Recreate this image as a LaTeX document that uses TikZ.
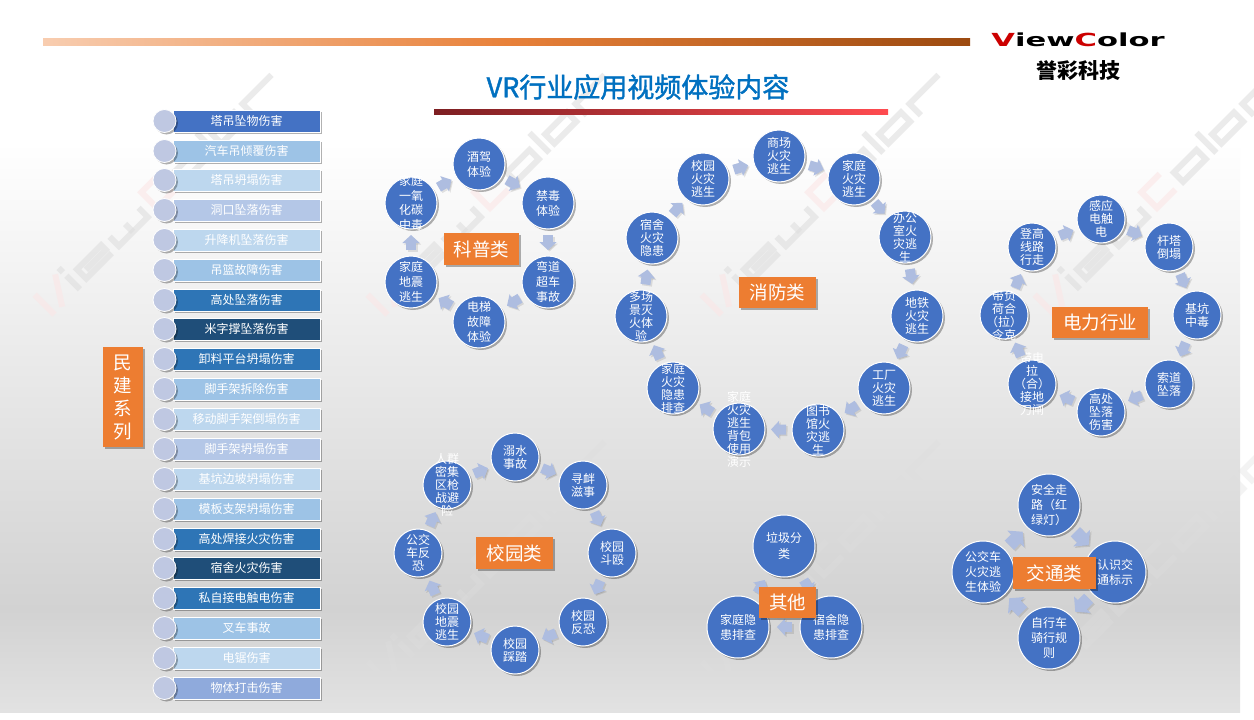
\documentclass[tikz,border=0pt]{standalone}
\usepackage{fontspec}
\setmainfont{Noto Sans CJK SC}
\newfontfamily\logofont{DejaVu Sans}
\newfontfamily\titlefont[FakeBold=1.5]{Noto Sans CJK SC}
\usetikzlibrary{shadows,calc,arrows.meta}
\definecolor{cblue}{HTML}{4472C4}
\definecolor{corange}{HTML}{ED7D31}
\definecolor{cdot}{HTML}{BFC8E2}
\definecolor{carrow}{HTML}{AEBDE0}
\definecolor{ctitle}{HTML}{0070C0}
\definecolor{wmgrey}{HTML}{DEDEDE}
\definecolor{wmpink}{HTML}{FBE6E6}
\definecolor{bgA}{HTML}{E2E2E2}
\definecolor{bgB}{HTML}{D2D2D2}
\definecolor{barL}{HTML}{F8CDB0}
\definecolor{barM}{HTML}{E8813A}
\definecolor{barR}{HTML}{9C4A10}
\definecolor{ulL}{HTML}{7D1F22}
\definecolor{ulR}{HTML}{FF4B50}
\pgfdeclareverticalshading{pagebg}{100bp}{color(0bp)=(bgA);color(25bp)=(bgA);color(32.2bp)=(bgB);color(65bp)=(white);color(100bp)=(white)}
\newcommand\ct[2][13]{\smash{\raisebox{-3pt}{\makebox[0pt]{\parbox[c]{80pt}{\centering\fontsize{12}{#1}\selectfont #2}}}}}
\newcommand\ba[3][blk]{%
  \path let \p1=($(#2.center)-(#3.center)$),\n1={veclen(\x1,\y1)/2-7.5pt} in \pgfextra{\xdef\myshort{\n1}};
  \draw[#1,shadowcopy,shorten <=\myshort,shorten >=\myshort] (#2.center)--(#3.center);
  \draw[#1,shorten <=\myshort,shorten >=\myshort] (#2.center)--(#3.center);}
\newcommand\bl[2]{%
  \path let \p1=($(#1.center)-(#2.center)$),\n1={veclen(\x1,\y1)/2-9.5pt} in \pgfextra{\xdef\myshort{\n1}};
  \draw[blkL,shadowcopy,shorten <=\myshort,shorten >=\myshort] (#1.center)--(#2.center);
  \draw[blkL,shorten <=\myshort,shorten >=\myshort] (#1.center)--(#2.center);}
\newcommand\wm[2]{%
  \begin{scope}[shift={(#1,#2)},rotate=45,y=1pt,line width=6pt,line join=miter,wmk]
    \draw[wmpink] (2,0)--(2,28);
    \draw[wmpink] (13,0)--(31,28);
    \draw (38,0)--(38,19);
    \draw (38,24)--(38,30);
    \draw (86,3)--(50,3)--(50,16)--(84,16)--(84,9.5)--(56,9.5);
    \draw (96,16)--(96,3)--(137,3)--(137,16);
    \draw (116,3)--(116,14);
    \draw[wmpink] (176,3)--(150,3)--(150,25)--(176,25);
    \draw (187,3)--(219,3)--(219,16)--(187,16)--cycle;
    \draw (231,0)--(231,28);
    \draw (241,3)--(272,3)--(272,16)--(241,16)--cycle;
    \draw (284,0)--(284,16)--(325,16);
  \end{scope}}
\tikzset{
  softshadow/.style={drop shadow={shadow xshift=2pt,shadow yshift=-2pt,opacity=.3,fill=black}},
  rnd/.style={circle,fill=cblue,draw=white,line width=1pt,inner sep=0pt,minimum size=#1,text=white,softshadow,font=\fontsize{12}{13}\selectfont},
  lab/.style={fill=corange,text=white,inner sep=0pt,font=\fontsize{18.5}{23}\selectfont,softshadow,align=center},
  barbox/.style={fill=#1,draw=white,line width=.8pt,minimum width=147pt,minimum height=22pt,inner sep=0pt,text=white,softshadow,font=\fontsize{12}{14}\selectfont},
  barend/.style={circle,fill=cdot,draw=white,line width=.8pt,minimum size=23pt,inner sep=0pt,softshadow},
  blk/.style={draw=carrow,line width=10pt,-{Triangle[length=8pt,width=17pt]}},
  blkL/.style={draw=carrow,line width=13pt,-{Triangle[length=10pt,width=23pt]}},
  shadowcopy/.style={draw=black,opacity=.1,transform canvas={shift={(1.5pt,-1.5pt)}}},
  wmk/.style={draw=wmgrey,opacity=.6}
}
\begin{document}
\begin{tikzpicture}[x=1pt,y=-1pt]
\useasboundingbox (0,0) rectangle (1254,720);
\fill[white] (0,0) rectangle (1254,720);
\shade[shading=pagebg] (0,0) rectangle (1240,712);
% watermark
\foreach \a in {53,386,720,1053}{\wm{\a}{316}}
\begin{scope}
\clip (0,0) rectangle (1254,720);
\colorlet{wmpink}{wmgrey}
\tikzset{wmk/.style={draw=wmgrey,opacity=.35}}
\foreach \a in {386,720,1053}{\wm{\a}{683}}
\end{scope}
% header
\shade[left color=barL,right color=barR,middle color=barM] (43,38) rectangle (970,45);
\shade[left color=ulL,right color=ulR] (434,109) rectangle (888,114);
\node[text=ctitle,font=\titlefont\fontsize{27}{30}\selectfont,inner sep=0pt] (title) at (638,87) {VR行业应用视频体验内容};
\node[inner sep=0pt,xscale=1.7,font=\logofont\bfseries\fontsize{18}{20}\selectfont,text=black] (logo) at (1078,40) {\textcolor{red!80!black}{V}iew\textcolor{red!80!black}{C}olor};
\node[inner sep=0pt,font=\fontsize{21}{24}\selectfont\bfseries] (brand) at (1078,71) {誉彩科技};
% left list
\node[lab,minimum width=40pt,minimum height=100pt] (minjian) at (123,397) {民\\建\\系\\列};
\foreach \i/\yy/\barcol/\lbl in {
 1/121/4472C4/塔吊坠物伤害,
 2/151/9DC3E6/汽车吊倾覆伤害,
 3/180/BDD7EE/塔吊坍塌伤害,
 4/210/B4C7E7/洞口坠落伤害,
 5/240/BDD7EE/升降机坠落伤害,
 6/270/9DC3E6/吊篮故障伤害,
 7/300/2E75B6/高处坠落伤害,
 8/329/1F4E79/米字撑坠落伤害,
 9/359/2E75B6/卸料平台坍塌伤害,
 10/389/9DC3E6/脚手架拆除伤害,
 11/419/BDD7EE/移动脚手架倒塌伤害,
 12/449/B4C7E7/脚手架坍塌伤害,
 13/479/BDD7EE/基坑边坡坍塌伤害,
 14/509/9DC3E6/模板支架坍塌伤害,
 15/539/2E75B6/高处焊接火灾伤害,
 16/568/1F4E79/宿舍火灾伤害,
 17/598/2E75B6/私自接电触电伤害,
 18/628/9DC3E6/叉车事故,
 19/658/BDD7EE/电锯伤害,
 20/688/8FAADC/物体打击伤害}{
  \definecolor{tmpc}{HTML}{\barcol}
  \node[barbox=tmpc] (b\i) at (246.5,\yy) {\lbl};
  \node[barend] (d\i) at (164.5,\yy) {};
}
% 科普类
\node[rnd=52pt] (k1) at (479,164) {\ct[15]{酒驾\\体验}};
\node[rnd=52pt] (k2) at (548,203) {\ct[15]{禁毒\\体验}};
\node[rnd=52pt] (k3) at (548,282) {\ct[15]{弯道\\超车\\事故}};
\node[rnd=52pt] (k4) at (479,322) {\ct[15]{电梯\\故障\\体验}};
\node[rnd=52pt] (k5) at (411,282) {\ct[15]{家庭\\地震\\逃生}};
\node[rnd=52pt] (k6) at (411,203) {\ct[14.7]{家庭\\一氧\\化碳\\中毒}};
\ba{k1}{k2}\ba{k2}{k3}\ba{k3}{k4}\ba{k4}{k5}\ba{k5}{k6}\ba{k6}{k1}
\node[lab,minimum width=75pt,minimum height=32pt] (kepu) at (481.5,249) {科普类};
% 消防类
\node[rnd=52pt] (f1) at (779,156) {\ct{商场\\火灾\\逃生}};
\node[rnd=52pt] (f2) at (854,179) {\ct{家庭\\火灾\\逃生}};
\node[rnd=52pt] (f3) at (905,237) {\ct{办公\\室火\\灾逃\\生}};
\node[rnd=52pt] (f4) at (917,316) {\ct{地铁\\火灾\\逃生}};
\node[rnd=52pt] (f5) at (884,388) {\ct{工厂\\火灾\\逃生}};
\node[rnd=52pt] (f6) at (818,430) {\ct{图书\\馆火\\灾逃\\生}};
\node[rnd=52pt] (f7) at (739,429) {\ct{家庭\\火灾\\逃生\\背包\\使用\\演示}};
\node[rnd=52pt] (f8) at (673,388) {\ct{家庭\\火灾\\隐患\\排查}};
\node[rnd=52pt] (f9) at (641,316) {\ct{多场\\景灭\\火体\\验}};
\node[rnd=52pt] (f10) at (652,238) {\ct{宿舍\\火灾\\隐患}};
\node[rnd=52pt] (f11) at (703,179) {\ct{校园\\火灾\\逃生}};
\ba{f1}{f2}\ba{f2}{f3}\ba{f3}{f4}\ba{f4}{f5}\ba{f5}{f6}\ba{f6}{f7}\ba{f7}{f8}\ba{f8}{f9}\ba{f9}{f10}\ba{f10}{f11}\ba{f11}{f1}
\node[lab,minimum width=77pt,minimum height=31pt] (xiaofang) at (777.5,292.5) {消防类};
% 电力行业
\node[rnd=48pt] (p1) at (1101,219) {\ct{感应\\电触\\电}};
\node[rnd=48pt] (p2) at (1169,247) {\ct{杆塔\\倒塌}};
\node[rnd=48pt] (p3) at (1197,315) {\ct{基坑\\中毒}};
\node[rnd=48pt] (p4) at (1169,384) {\ct{索道\\坠落}};
\node[rnd=48pt] (p5) at (1101,412) {\ct{高处\\坠落\\伤害}};
\node[rnd=48pt] (p6) at (1032,384) {\ct{带电\\拉\\（合）\\接地\\刀闸}};
\node[rnd=48pt] (p7) at (1004,315) {\ct{带负\\荷合\\（拉）\\令克}};
\node[rnd=48pt] (p8) at (1032,247) {\ct{登高\\线路\\行走}};
\ba{p1}{p2}\ba{p2}{p3}\ba{p3}{p4}\ba{p4}{p5}\ba{p5}{p6}\ba{p6}{p7}\ba{p7}{p8}\ba{p8}{p1}
\node[lab,minimum width=96pt,minimum height=31pt] (dianli) at (1100,322.5) {电力行业};
% 校园类
\node[rnd=48pt] (s1) at (515,457) {\ct{溺水\\事故}};
\node[rnd=48pt] (s2) at (583,485) {\ct{寻衅\\滋事}};
\node[rnd=48pt] (s3) at (612,553) {\ct{校园\\斗殴}};
\node[rnd=48pt] (s4) at (583,622) {\ct{校园\\反恐}};
\node[rnd=48pt] (s5) at (515,650) {\ct{校园\\踩踏}};
\node[rnd=48pt] (s6) at (447,622) {\ct{校园\\地震\\逃生}};
\node[rnd=48pt] (s7) at (418,553) {\ct{公交\\车反\\恐}};
\node[rnd=48pt] (s8) at (447,485) {\ct{人群\\密集\\区枪\\战避\\险}};
\ba{s1}{s2}\ba{s2}{s3}\ba{s3}{s4}\ba{s4}{s5}\ba{s5}{s6}\ba{s6}{s7}\ba{s7}{s8}\ba{s8}{s1}
\node[lab,minimum width=77pt,minimum height=32pt] (xiaoyuan) at (514.5,553) {校园类};
% 其他
\node[rnd=62pt] (o1) at (784,546) {\ct[15.5]{垃圾分\\类}};
\node[rnd=62pt] (o2) at (831,627) {\ct[15]{宿舍隐\\患排查}};
\node[rnd=62pt] (o3) at (738,627) {\ct[15]{家庭隐\\患排查}};
\ba{o1}{o2}\ba{o2}{o3}\ba{o3}{o1}
\node[lab,minimum width=57pt,minimum height=31pt] (qita) at (787.5,602.5) {其他};
% 交通类
\node[rnd=62pt] (t1) at (1049,505) {\ct[15]{安全走\\路（红\\绿灯）}};
\node[rnd=62pt] (t2) at (1115,572) {\ct[15]{认识交\\通标示}};
\node[rnd=62pt] (t3) at (1049,638) {\ct[15]{自行车\\骑行规\\则}};
\node[rnd=62pt] (t4) at (983,572) {\ct[15]{公交车\\火灾逃\\生体验}};
\bl{t1}{t2}\bl{t2}{t3}\bl{t3}{t4}\bl{t4}{t1}
\node[lab,minimum width=83pt,minimum height=32pt] (jiaotong) at (1054.5,573) {交通类};
\end{tikzpicture}
\end{document}
